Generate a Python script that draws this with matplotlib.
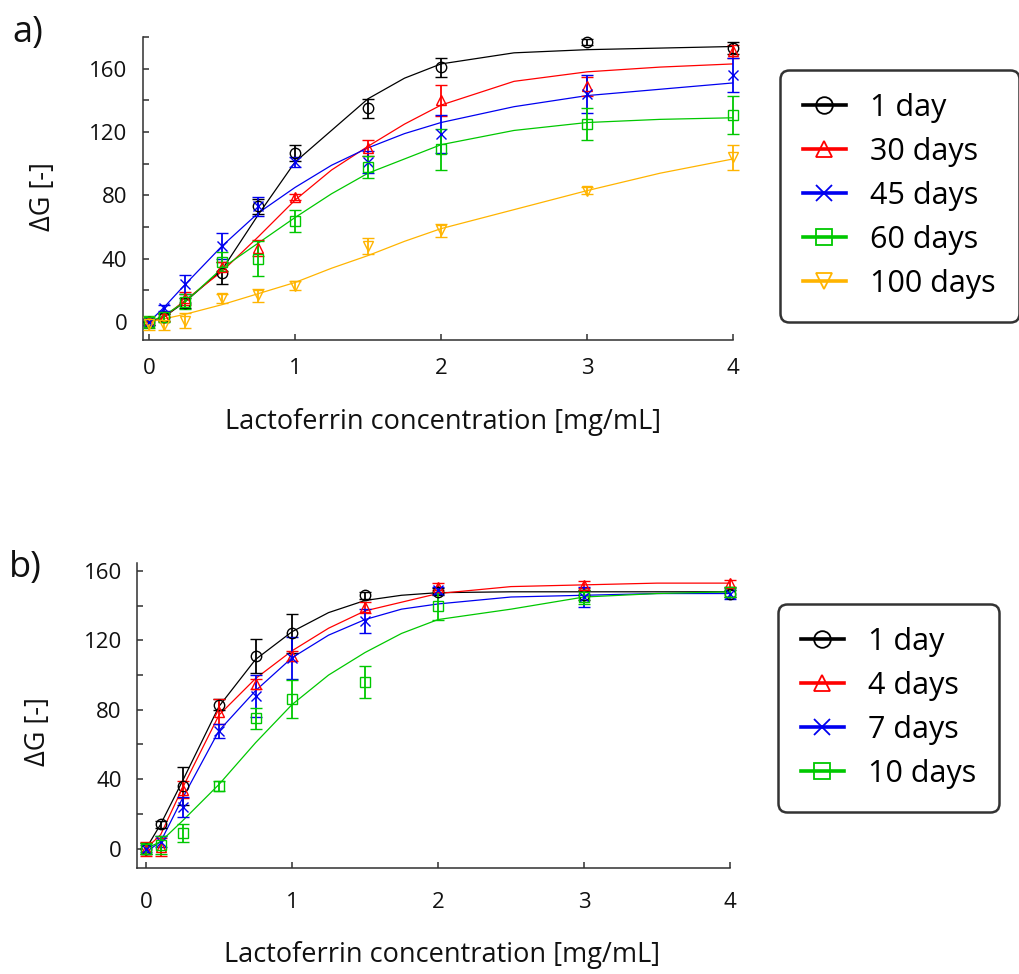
import numpy as np
import matplotlib
matplotlib.use('Agg')
import matplotlib.pyplot as plt
from matplotlib.lines import Line2D
from matplotlib.ticker import MultipleLocator

plt.rcParams['font.family'] = ['Open Sans', 'DejaVu Sans']

# Lactoferrin concentrations (mg/mL) of the measured points
conc = [0, 0.1, 0.25, 0.5, 0.75, 1, 1.5, 2, 3, 4]
fit_x = [0, 0.1, 0.25, 0.5, 0.75, 1, 1.25, 1.5, 1.75, 2, 2.5, 3, 3.5, 4]

# panel a) storage time series
labels_a = ['1 day', '30 days', '45 days', '60 days', '100 days']
d1_a = [0, 3, 12, 31, 73, 107, 135, 161, 177, 173]
d1_a_err = [2, 2, 3, 7, 5, 5, 6, 6, 2, 4]
d30_a = [0, 3, 15, 35, 47, 79, 110, 140, 149, 171]
d30_a_err = [2, 2, 4, 3, 5, 2, 5, 10, 6, 4]
d45_a = [0, 9, 24, 48, 73, 101, 101, 119, 144, 156]
d45_a_err = [2, 2, 6, 8, 6, 3, 7, 12, 12, 11]
d60_a = [0, 3, 13, 38, 40, 64, 98, 109, 125, 131]
d60_a_err = [4, 3, 5, 6, 11, 7, 7, 13, 10, 12]
d100_a = [-1, -2, 1, 15, 17, 23, 48, 58, 83, 104]
d100_a_err = [4, 3, 5, 3, 4, 3, 5, 4, 2, 8]

fit1_a = [0, 3, 13, 33, 68, 101, 121, 141, 154, 163, 170, 172, 173, 174]
fit30_a = [0, 3, 14, 32, 54, 77, 96, 111, 125, 137, 152, 158, 161, 163]
fit45_a = [0, 9, 24, 48, 69, 85, 99, 110, 119, 126, 136, 143, 147, 151]
fit60_a = [0, 4, 13, 34, 50, 66, 81, 94, 103, 112, 121, 126, 128, 129]
fit100_a = [0, 2, 5, 11, 18, 25, 34, 42, 51, 59, 71, 83, 94, 103]

# panel b) storage time series
labels_b = ['1 day', '4 days', '7 days', '10 days']
d1_b = [0, 14, 36, 83, 111, 124, 146, 148, 146, 147]
d1_b_err = [3, 2, 11, 3, 10, 11, 2, 2, 3, 2]
d4_b = [0, 1, 34, 79, 95, 111, 139, 151, 152, 153]
d4_b_err = [4, 5, 5, 7, 3, 3, 3, 2, 2, 2]
d7_b = [0, 4, 24, 68, 88, 110, 131, 149, 145, 147]
d7_b_err = [2, 3, 6, 4, 12, 12, 7, 2, 6, 3]
d10_b = [0, 2, 9, 36, 75, 86, 96, 140, 145, 148]
d10_b_err = [3, 5, 5, 3, 6, 11, 9, 8, 4, 3]

fit1_b = [0, 14, 39, 82, 109, 125, 136, 143, 146, 147.5, 148, 148, 148, 148]
fit4_b = [0, 8, 35, 77, 98, 114, 127, 137, 142, 147, 151, 152, 153, 153]
fit7_b = [-2, 4, 29, 68, 91, 110, 123, 132, 138, 141, 145, 146, 147, 147]
fit10_b = [0, 4, 16, 37, 61, 83, 100, 113, 124, 132, 138, 145, 147, 148]

black, red, blue, green, orange = '#000000', '#ff0000', '#0000f0', '#00c800', '#ffb400'

W, H = 1019, 974
fig = plt.figure(figsize=(W / 100, H / 100), dpi=100)


def px_axes(l, t, r, b):
    return fig.add_axes([l / W, 1 - b / H, (r - l) / W, (b - t) / H])


def style(ax, xlim, ylim, xpad):
    ax.set_xlim(*xlim)
    ax.set_ylim(*ylim)
    for s in ['top', 'right']:
        ax.spines[s].set_visible(False)
    for s in ['left', 'bottom']:
        ax.spines[s].set_color('#303030')
        ax.spines[s].set_linewidth(1.1)
    ax.xaxis.set_major_locator(MultipleLocator(1))
    ax.yaxis.set_major_locator(MultipleLocator(40))
    ax.yaxis.set_minor_locator(MultipleLocator(20))
    ax.tick_params(which='both', direction='in', length=4, width=1.1,
                   color='#303030', labelsize=16, labelcolor='#111111')
    ax.tick_params(axis='y', pad=11)
    ax.tick_params(axis='x', pad=xpad)


def draw(ax, series, fits):
    for (y, err, c, m), f in zip(series, fits):
        ax.plot(fit_x, f, color=c, lw=0.9, zorder=2)
        ax.errorbar(conc, y, yerr=err, color=c, marker=m, ms=7.5, mfc='none',
                    mec=c, mew=1.0, ls='none', elinewidth=1.3, capsize=4.5,
                    capthick=1.3, clip_on=False, zorder=3)


def legend(ax, labels, colors, markers, x0, y0):
    handles = [Line2D([], [], color=c, lw=2.6, marker=m, ms=12, mfc='none',
                      mec=c, mew=1.3) for c, m in zip(colors, markers)]
    leg = ax.legend(handles, labels, loc='upper left',
                    bbox_to_anchor=(x0 / W, 1 - y0 / H),
                    bbox_transform=fig.transFigure, fontsize=22,
                    frameon=True, fancybox=True, edgecolor='black',
                    handlelength=1.4, handletextpad=0.8, labelspacing=0.46,
                    borderpad=0.75, borderaxespad=0)
    leg.get_frame().set_linewidth(1.8)
    leg.get_frame().set_boxstyle('round,pad=0,rounding_size=0.3')


# ---- panel a
ax1 = px_axes(142.7, 37, 733, 340)
style(ax1, (-0.043, 4.0), (-11.3, 180), 13)
draw(ax1,
     [(d1_a, d1_a_err, black, 'o'), (d30_a, d30_a_err, red, '^'),
      (d45_a, d45_a_err, blue, 'x'), (d60_a, d60_a_err, green, 's'),
      (d100_a, d100_a_err, orange, 'v')],
     [fit1_a, fit30_a, fit45_a, fit60_a, fit100_a])
legend(ax1, labels_a, [black, red, blue, green, orange],
       ['o', '^', 'x', 's', 'v'], 780, 70)

# ---- panel b
ax2 = px_axes(137, 563, 730, 868)
style(ax2, (-0.062, 4.0), (-11.2, 164.6), 17)
draw(ax2,
     [(d1_b, d1_b_err, black, 'o'), (d4_b, d4_b_err, red, '^'),
      (d7_b, d7_b_err, blue, 'x'), (d10_b, d10_b_err, green, 's')],
     [fit1_b, fit4_b, fit7_b, fit10_b])
legend(ax2, labels_b, [black, red, blue, green], ['o', '^', 'x', 's'], 778, 604)

# labels
fs_lab = 19.5
fig.text(443 / W, 1 - 422 / H, 'Lactoferrin concentration [mg/mL]',
         ha='center', va='center', fontsize=fs_lab, color='#111111')
fig.text(442 / W, 1 - 955 / H, 'Lactoferrin concentration [mg/mL]',
         ha='center', va='center', fontsize=fs_lab, color='#111111')
fig.text(43 / W, 1 - 197 / H, 'ΔG [-]', rotation=90, ha='center',
         va='center', fontsize=fs_lab, color='#111111')
fig.text(38 / W, 1 - 732 / H, 'ΔG [-]', rotation=90, ha='center',
         va='center', fontsize=fs_lab, color='#111111')
fig.text(12 / W, 1 - 33 / H, 'a)', ha='left', va='center', fontsize=26,
         color='#111111')
fig.text(9 / W, 1 - 568 / H, 'b)', ha='left', va='center', fontsize=26,
         color='#111111')

fig.savefig('out.png', dpi=100)
